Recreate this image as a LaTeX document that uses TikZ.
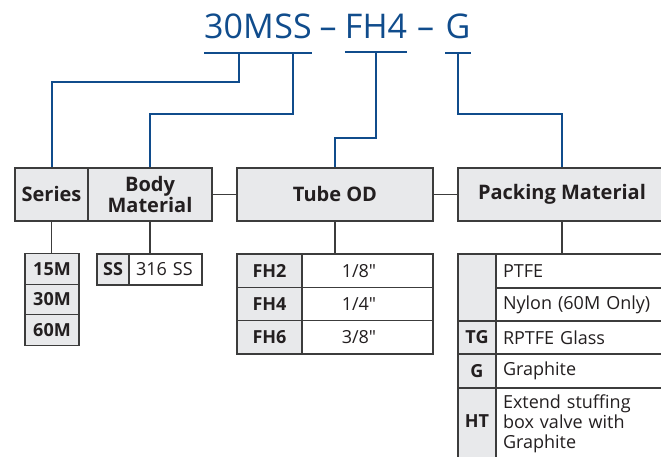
\documentclass[tikz,border=0pt]{standalone}
\usepackage{fontspec}
\setmainfont{Open Sans}[Ligatures=TeXOff]
\usetikzlibrary{positioning}
\definecolor{codeblue}{HTML}{104C8C}
\definecolor{inkdark}{HTML}{231F20}
\definecolor{cellbg}{HTML}{E8E9EB}
\definecolor{cellborder}{HTML}{3C3C3C}

\begin{document}
\begin{tikzpicture}[x=1pt,y=-1pt,
  every node/.style={text=inkdark},
  part/.style={anchor=base, inner sep=0pt, text=codeblue, font=\fontsize{34}{40}\selectfont},
  headbox/.style={draw=cellborder, line width=1.2pt, fill=cellbg, minimum height=53pt, align=center, font=\fontsize{20}{21}\selectfont\bfseries},
  codecell/.style={draw=cellborder, line width=1.2pt, fill=cellbg, inner sep=0pt, font=\fontsize{18}{20}\selectfont\bfseries},
  desccell/.style={draw=cellborder, line width=1.2pt, fill=white, inner ysep=0pt, inner xsep=7pt, align=left, font=\fontsize{18}{20}\selectfont},
  bar/.style={draw=codeblue, line width=2pt},
  wire/.style={draw=codeblue, line width=2pt},
  link/.style={draw=cellborder, line width=1.2pt}
]
  \useasboundingbox (0,0) rectangle (661,457);
  \clip (0,0) rectangle (661,457);

  % ordering code
  \node[part] (t30M) at (239,39) {30M};
  \node[part] (tSS) at (293,39) {SS};
  \node[part] (dash1) at (328,39) {–};
  \node[part] (tFH4) at (376,39) {FH4};
  \node[part] (dash2) at (425.5,39) {–};
  \node[part] (tG) at (458,39) {G};

  % headings
  \node[headbox, minimum width=73pt] (series) at (51.5,194.5) {Series};
  \node[headbox, minimum width=124pt] (body) at (150,194.5) {Body\\Material};
  \node[headbox, minimum width=196pt] (tube) at (335,194.5) {Tube OD};
  \node[headbox, minimum width=208pt] (pack) at (562,194.5) {Packing Material};
  \draw[link] (body.east) -- (tube.west);
  \draw[link] (tube.east) -- (pack.west);

  % series
  \foreach \c [count=\i] in {15M,30M,60M}
    \node[codecell, minimum width=54pt, minimum height=30.5pt] (s\c) at (52,238.5+30.5*\i) {\c};

  % body material
  \node[codecell, minimum width=32pt, minimum height=31pt] (ss) at (113,269.5) {SS};
  \node[desccell, text width=59pt, minimum height=31pt] (ssdesc) at (165.5,269.5) {316 SS};

  % tube OD
  \foreach \c/\d [count=\i] in {FH2/{1/8"},FH4/{1/4"},FH6/{3/8"}} {
    \node[codecell, minimum width=65pt, minimum height=33.3pt] (\c) at (269.5,237.33+33.33*\i) {\c};
    \node[desccell, align=center, text width=117pt, minimum height=33.3pt] (\c desc) at (367.5,237.33+33.33*\i) {\d\hspace*{17pt}};
  }

  % packing material
  \node[codecell, minimum width=38pt, minimum height=67pt] (pnone) at (477,287.5) {};
  \node[desccell, text width=156pt, minimum height=34pt] (ptfe) at (581,271) {PTFE};
  \node[desccell, text width=156pt, minimum height=33pt] (nylon) at (581,304.5) {Nylon (60M Only)};
  \node[codecell, minimum width=38pt, minimum height=33pt] (TG) at (477,337.5) {TG};
  \node[desccell, text width=156pt, minimum height=33pt] (TGdesc) at (581,337.5) {RPTFE Glass};
  \node[codecell, minimum width=38pt, minimum height=34pt] (G) at (477,371) {G};
  \node[desccell, text width=156pt, minimum height=34pt] (Gdesc) at (581,371) {Graphite};
  \node[codecell, minimum width=38pt, minimum height=72pt] (HT) at (477,424) {\raisebox{6pt}{HT}};
  \node[desccell, text width=156pt, minimum height=72pt] (HTdesc) at (581,424)
    {\raisebox{7pt}{\begin{tabular}{@{}l@{}}Extend stuffing\\box valve with\\Graphite\end{tabular}}};

  % links down to the tables
  \draw[link] (series.south) -- (series.south |- s15M.north);
  \draw[link] (body.south) -- (body.south |- ssdesc.north);
  \draw[link] (tube.south) -- (tube.south |- FH2desc.north);
  \draw[link] (pack.south) -- (pack.south |- ptfe.north);

  % underlines and leaders
  \foreach \t in {t30M,tSS,tFH4,tG}
    \draw[bar] ([yshift=-13pt]\t.south west) -- ([yshift=-13pt]\t.south east);
  \draw[wire] ([yshift=-13pt]t30M.south) -- ++(0,29) -| (series.north);
  \draw[wire] ([yshift=-13pt]tSS.south) -- ++(0,61) -| (body.north);
  \draw[wire] ([yshift=-13pt]tFH4.south) -- ++(0,86) -| (tube.north);
  \draw[wire] ([yshift=-13pt]tG.south) -- ++(0,61) -| (pack.north);
\end{tikzpicture}
\end{document}
